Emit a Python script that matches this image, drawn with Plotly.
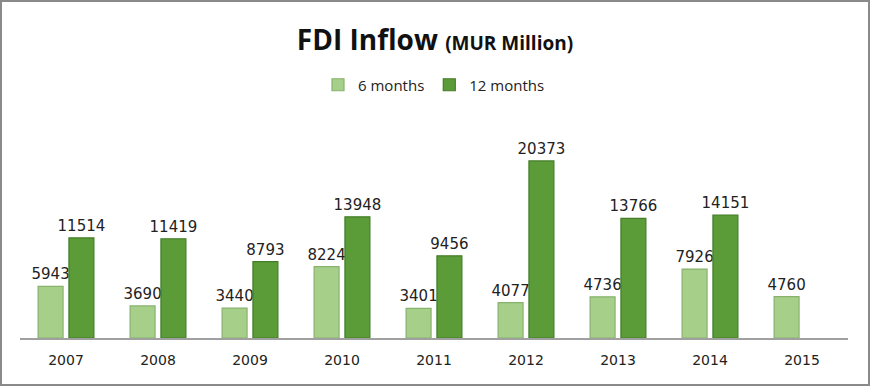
import plotly.graph_objects as go

years = ["2007", "2008", "2009", "2010", "2011", "2012", "2013", "2014", "2015"]
six_months = [5943, 3690, 3440, 8224, 3401, 4077, 4736, 7926, 4760]
twelve_months = [11514, 11419, 8793, 13948, 9456, 20373, 13766, 14151, None]

W, H = 870, 386
ML, MR, MT, MB = 20, 22, 120, 48
PW = W - ML - MR
PH = H - MT - MB

fig = go.Figure()
fig.add_trace(go.Bar(
    name="6 months", x=years, y=six_months,
    marker=dict(color="#a6cf8a", line=dict(color="#86b26c", width=1.2)),
    text=[str(v) for v in six_months], textposition="outside",
    textfont=dict(family="DejaVu Sans", size=15, color="#222222"),
    cliponaxis=False, constraintext="none",
))
fig.add_trace(go.Bar(
    name="12 months", x=years, y=twelve_months,
    marker=dict(color="#5c9c38", line=dict(color="#437d27", width=1.2)),
    text=[("" if v is None else str(v)) for v in twelve_months], textposition="outside",
    textfont=dict(family="DejaVu Sans", size=15, color="#222222"),
    cliponaxis=False, constraintext="none",
))

fig.update_layout(
    width=W, height=H,
    margin=dict(l=ML, r=MR, t=MT, b=MB),
    paper_bgcolor="white", plot_bgcolor="white",
    barmode="group", bargap=0.33, bargroupgap=0.19,
    title=dict(
        text="<b>FDI Inflow</b> <b><span style='font-size:19px'>(MUR Million)</span></b>",
        x=0.5, xanchor="center", y=1 - 40 / H, yanchor="middle",
        font=dict(family="Open Sans", size=28, color="#111111"),
    ),
    legend=dict(
        orientation="h", x=0.5, xanchor="center", y=1 + 35 / PH, yanchor="middle",
        font=dict(family="Open Sans", size=15, color="#222222"),
        itemwidth=30, traceorder="normal",
    ),
    showlegend=True,
)
fig.update_xaxes(
    showline=True, linecolor="#a0a0a0", linewidth=1.5,
    ticks="", tickfont=dict(family="DejaVu Sans", size=14, color="#222222"),
    ticklabelstandoff=8,
    showgrid=False,
)
fig.update_yaxes(
    range=[0, 25085], visible=False, showgrid=False,
)
fig.add_shape(
    type="rect", xref="paper", yref="paper",
    x0=-(ML - 1) / PW, x1=1 + (MR - 1) / PW,
    y0=-(MB - 1) / PH, y1=1 + (MT - 1) / PH,
    line=dict(color="#8a8a8a", width=2),
)

fig.write_html(
    "out.html",
    config={"displayModeBar": False},
    post_script="document.body.style.margin='0';document.body.style.overflow='hidden';",
)
